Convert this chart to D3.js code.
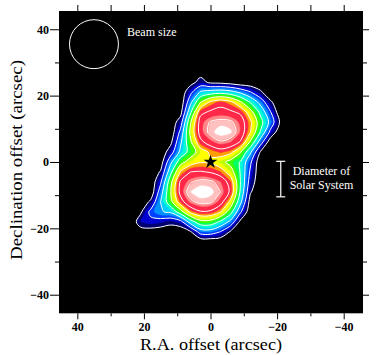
<!DOCTYPE html>
<html><head><meta charset="utf-8">
<script src="https://cdn.jsdelivr.net/npm/d3@7"></script>
<style>html,body{margin:0;padding:0;background:#fff;} svg{display:block;}</style>
</head><body>
<svg id="chart" width="381" height="355"></svg>
<script>
// ---- data (arcsec offsets, intensity in % of peak) ----
const raOffsets  = [24,21,18,15,12,9,6,3,0,-3,-6,-9,-12,-15,-18,-21,-24];
const decOffsets = [24,21,18,15,12,9,6,3,0,-3,-6,-9,-12,-15,-18,-21,-24];
const row24  = [0,0,0,0,0,0,4,12,6,5,3,0,0,0,0,0,0];
const row21  = [0,0,0,0,0,0,17,34,38,40,37,30,21,10,0,0,0];
const row18  = [0,0,0,0,0,0,29,56,70,76,71,58,43,28,10,0,0];
const row15  = [0,0,0,0,0,4,42,77,82,84,82,78,61,41,21,0,0];
const row12  = [0,0,0,0,0,14,55,85,93,95,94,86,70,49,28,6,0];
const row9   = [0,0,0,0,0,23,59,85,95,100,98,87,68,43,17,0,0];
const row6   = [0,0,0,0,5,30,54,77,86,91,88,79,54,26,1,0,0];
const row3   = [0,0,0,0,14,35,49,62,70,75,71,57,34,7,0,0,0];
const row0   = [0,0,0,2,29,51,62,67,66,60,52,43,22,0,0,0,0];
const rowM3  = [0,0,0,9,40,69,80,81,79,74,62,43,18,0,0,0,0];
const rowM6  = [0,0,0,18,52,82,91,95,94,88,75,44,14,0,0,0,0];
const rowM9  = [0,0,0,26,55,84,97,100,99,92,78,42,9,0,0,0,0];
const rowM12 = [0,0,10,32,52,75,90,95,94,85,65,35,3,0,0,0,0];
const rowM15 = [0,6,23,31,34,51,71,79,78,69,49,22,0,0,0,0,0];
const rowM18 = [0,14,17,15,12,16,38,52,52,42,29,5,0,0,0,0,0];
const rowM21 = [0,3,3,2,0,0,7,26,27,20,7,0,0,0,0,0,0];
const rowM24 = [0,0,0,0,0,0,0,0,0,0,0,0,0,0,0,0,0];
const intensity = [row24,row21,row18,row15,row12,row9,row6,row3,row0,rowM3,rowM6,rowM9,rowM12,rowM15,rowM18,rowM21,rowM24];

const fillLevels = [8,14,20,26,32,38,44,50,56,62,68,74,88,93,97];
const fillColors = ["#000070","#0000d0","#0040ff","#0090ff","#00d0ff","#00ffd0","#00ff60","#40ff00",
                    "#c0ff00","#ffff00","#ffa000","#ff2848","#ff8888","#ffc0c0","#ffffff"];
const lineLevels = [8,20,32,44,56,68,80,92];

const xTicksMajor = [40,20,0,-20,-40];
const xTicksMinor = [30,10,-10,-30];
const yTicksMajor = [40,20,0,-20,-40];
const yTicksMinor = [30,10,-10,-30];
const xLimits = [45.5,-45.8];
const yLimits = [-45.6,45.5];

const beamCenter = [35,35.5];
const beamRadius = 7.35;
const starPos = [0,0];
const solarBar = [-21.1, 0.2, -10.5]; // ra, dec top, dec bottom

(function(){
const svg = d3.select("#chart");
const x = d3.scaleLinear().domain(xLimits).range([59,363]);
const y = d3.scaleLinear().domain(yLimits).range([313.3,11]);
const font = "'Liberation Serif','DejaVu Serif',serif";
const pTop = y(yLimits[1]), pBot = y(yLimits[0]), pLft = x(xLimits[0]), pRgt = x(xLimits[1]);

svg.append("rect").attr("x",pLft).attr("y",pTop)
  .attr("width",pRgt-pLft).attr("height",pBot-pTop).attr("fill","#000");
svg.append("clipPath").attr("id","clip").append("rect")
  .attr("x",pLft).attr("y",pTop).attr("width",pRgt-pLft).attr("height",pBot-pTop);

const nx = raOffsets.length, ny = decOffsets.length;
const values = intensity.flat();
const dRa = raOffsets[1]-raOffsets[0], dDec = decOffsets[1]-decOffsets[0];
const gx = c => raOffsets[0] + (c-0.5)*dRa;
const gy = c => decOffsets[0] + (c-0.5)*dDec;
const gen = d3.contours().size([nx,ny]).smooth(true);
const curve = d3.line().curve(d3.curveCatmullRomClosed.alpha(0.5));
function smoothPath(mp){
  let s = "";
  mp.coordinates.forEach(poly => poly.forEach(ring => {
    const pts = ring.slice(0, -1).map(p => [x(gx(p[0])), y(gy(p[1]))]);
    if (pts.length > 2) s += curve(pts);
  }));
  return s;
}

const map = svg.append("g").attr("clip-path","url(#clip)");
map.selectAll("path.band").data(gen.thresholds(fillLevels)(values)).join("path")
  .attr("class","band").attr("d",smoothPath).attr("fill-rule","evenodd")
  .attr("fill",(d,i)=>fillColors[i]).attr("stroke",(d,i)=>fillColors[i]).attr("stroke-width",0.5);
map.selectAll("path.line").data(gen.thresholds(lineLevels)(values)).join("path")
  .attr("class","line").attr("d",smoothPath)
  .attr("fill","none").attr("stroke","#fff").attr("stroke-width",1);

map.append("circle").attr("cx",x(beamCenter[0])).attr("cy",y(beamCenter[1]))
  .attr("r",x(0)-x(beamRadius)).attr("fill","none").attr("stroke","#fff").attr("stroke-width",1);
svg.append("text").attr("x",127).attr("y",36).attr("fill","#fff")
  .attr("font-family",font).attr("font-size",12).text("Beam size");

svg.append("path").attr("d",d3.symbol(d3.symbolStar,60)())
  .attr("transform",`translate(${x(starPos[0])},${y(starPos[1])})`).attr("fill","#000");

const bx = x(solarBar[0]), by0 = y(solarBar[1]), by1 = y(solarBar[2]);
const bar = svg.append("g").attr("stroke","#fff").attr("stroke-width",1.2);
bar.append("line").attr("x1",bx).attr("x2",bx).attr("y1",by0).attr("y2",by1);
bar.append("line").attr("x1",bx-4.5).attr("x2",bx+4.5).attr("y1",by0).attr("y2",by0);
bar.append("line").attr("x1",bx-4.5).attr("x2",bx+4.5).attr("y1",by1).attr("y2",by1);
svg.append("text").attr("x",321.5).attr("y",175).attr("text-anchor","middle").attr("fill","#fff")
  .attr("font-family",font).attr("font-size",12).text("Diameter of");
svg.append("text").attr("x",321.5).attr("y",189).attr("text-anchor","middle").attr("fill","#fff")
  .attr("font-family",font).attr("font-size",12).text("Solar System");

const fmt = d => d < 0 ? "\u2212" + Math.abs(d) : String(d);
function styleAxis(g){
  g.select(".domain").remove();
  g.selectAll("line").attr("stroke","#000").attr("stroke-width",1);
  g.selectAll("text").attr("font-family",font).attr("font-size",12).attr("font-weight","bold").attr("fill","#000");
}
svg.append("g").attr("transform",`translate(0,${pBot})`)
  .call(d3.axisBottom(x).tickValues(xTicksMajor).tickSize(6).tickPadding(3).tickFormat(fmt)).call(styleAxis);
svg.append("g").attr("transform",`translate(0,${pBot})`)
  .call(d3.axisBottom(x).tickValues(xTicksMinor).tickSize(3).tickFormat("")).call(styleAxis);
svg.append("g").attr("transform",`translate(0,${pTop})`)
  .call(d3.axisTop(x).tickValues(xTicksMajor.concat(xTicksMinor)).tickSize(6).tickFormat("")).call(styleAxis);
svg.append("g").attr("transform",`translate(${pLft},0)`)
  .call(d3.axisLeft(y).tickValues(yTicksMajor).tickSize(9).tickPadding(1).tickFormat(fmt)).call(styleAxis);
svg.append("g").attr("transform",`translate(${pLft},0)`)
  .call(d3.axisLeft(y).tickValues(yTicksMinor).tickSize(4).tickFormat("")).call(styleAxis);
svg.append("g").attr("transform",`translate(${pRgt},0)`)
  .call(d3.axisRight(y).tickValues(yTicksMajor).tickSize(6).tickFormat("")).call(styleAxis);
svg.append("g").attr("transform",`translate(${pRgt},0)`)
  .call(d3.axisRight(y).tickValues(yTicksMinor).tickSize(4).tickFormat("")).call(styleAxis);

svg.append("text").attr("x",211).attr("y",350).attr("text-anchor","middle")
  .attr("font-family",font).attr("font-size",16).attr("textLength",142).attr("lengthAdjust","spacingAndGlyphs")
  .text("R.A. offset (arcsec)");
svg.append("text").attr("transform","translate(22,160) rotate(-90)").attr("text-anchor","middle")
  .attr("font-family",font).attr("font-size",16).attr("textLength",200).attr("lengthAdjust","spacingAndGlyphs")
  .text("Declination offset (arcsec)");
})();
</script>
</body></html>
